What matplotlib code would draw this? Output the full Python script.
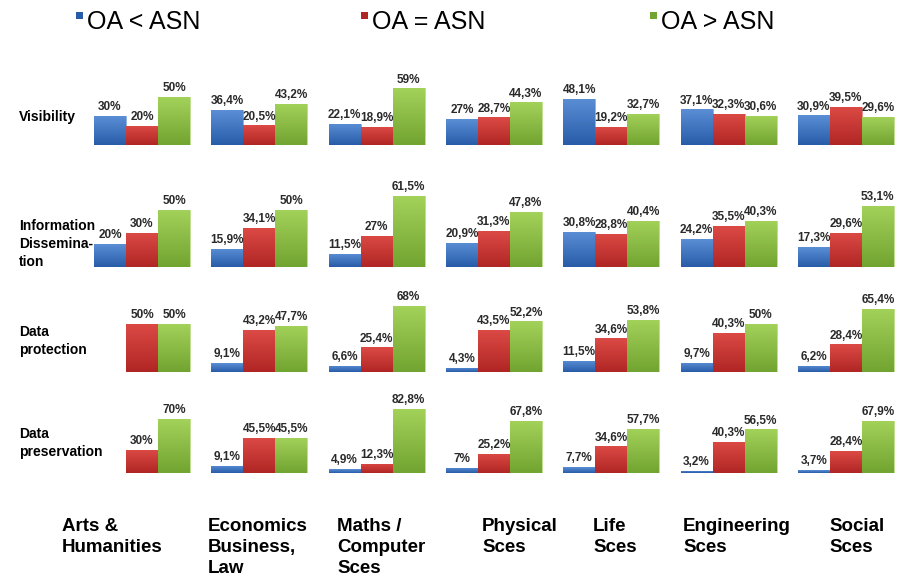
import numpy as np
import matplotlib
matplotlib.use("Agg")
import matplotlib.pyplot as plt
from matplotlib.patches import Rectangle
from matplotlib.colors import LinearSegmentedColormap

plt.rcParams['font.family'] = ['Liberation Sans', 'DejaVu Sans']

# ==== data ====
disciplines = ["Arts &\nHumanities", "Economics\nBusiness,\nLaw", "Maths /\nComputer\nSces",
               "Physical\nSces", "Life\nSces", "Engineering\nSces", "Social\nSces"]
criteria = ["Visibility", "Information\nDissemina-\ntion", "Data\nprotection", "Data\npreservation"]
series = ["OA < ASN", "OA = ASN", "OA > ASN"]

# rows = criteria, columns = disciplines
oa_less = [
    [30, 36.4, 22.1, 27, 48.1, 37.1, 30.9],
    [20, 15.9, 11.5, 20.9, 30.8, 24.2, 17.3],
    [0, 9.1, 6.6, 4.3, 11.5, 9.7, 6.2],
    [0, 9.1, 4.9, 7, 7.7, 3.2, 3.7],
]
oa_equal = [
    [20, 20.5, 18.9, 28.7, 19.2, 32.3, 39.5],
    [30, 34.1, 27, 31.3, 28.8, 35.5, 29.6],
    [50, 43.2, 25.4, 43.5, 34.6, 40.3, 28.4],
    [30, 45.5, 12.3, 25.2, 34.6, 40.3, 28.4],
]
oa_more = [
    [50, 43.2, 59, 44.3, 32.7, 30.6, 29.6],
    [50, 50, 61.5, 47.8, 40.4, 40.3, 53.1],
    [50, 47.7, 68, 52.2, 53.8, 50, 65.4],
    [70, 45.5, 82.8, 67.8, 57.7, 56.5, 67.9],
]

# ==== layout (pixels) ====
W, H = 914, 581
baselines = [145, 267, 372, 473]       # bar baseline of each row
px_per_pct = [0.96, 1.15, 0.97, 0.77]  # each row is scaled on its own
group_left, group_step, bar_px = 94, 117.3, 32
label_x = [62, 208, 337, 482, 593, 683, 829]

colors = [("#5a8fd6", "#285ca8"), ("#dc4a45", "#b02624"), ("#a3d25a", "#72a431")]
edges = ["#8fb3e3", "#e58d8a", "#c2e090"]


def fmt(v):
    if float(v).is_integer():
        return f"{int(v)}%"
    return f"{v}%".replace(".", ",")


fig = plt.figure(figsize=(W / 100, H / 100), dpi=100)

bw = bar_px / group_step
for r in range(len(criteria)):
    ax_h = 120
    ax = fig.add_axes([0, 1 - baselines[r] / H, 1, ax_h / H])
    idx = np.arange(len(disciplines))
    for k, vals in enumerate([oa_less[r], oa_equal[r], oa_more[r]]):
        xs = idx + (k + 0.5) * bw
        bars = ax.bar(xs, vals, width=bw, color=colors[k][1], edgecolor=edges[k], linewidth=0.6)
        # excel-like vertical gradient on each bar
        cmap = LinearSegmentedColormap.from_list("g", [colors[k][1], colors[k][0]])
        grad = np.linspace(0, 1, 64).reshape(-1, 1)
        for b, x, v in zip(bars, xs, vals):
            if v <= 0:
                continue
            im = ax.imshow(grad, cmap=cmap, origin="lower", aspect="auto",
                           extent=[x - bw / 2, x + bw / 2, 0, v], zorder=2)
            im.set_clip_path(b)
            ax.annotate(fmt(v), (x, v), xytext=(0, 2), textcoords="offset points",
                        ha="center", va="bottom", fontsize=8.5, fontweight="bold",
                        color="#2a2a2a", zorder=5)
    ax.set_xlim(-group_left / group_step, (W - group_left) / group_step)
    ax.set_ylim(0, ax_h / px_per_pct[r])
    ax.axis("off")

# row labels
row_label_y = [117, 244, 341, 443]
for lab, y in zip(criteria, row_label_y):
    fig.text(19 / W, 1 - y / H, lab, ha="left", va="center", fontsize=10,
             fontweight="bold", linespacing=1.4)

# column labels
for lab, x in zip(disciplines, label_x):
    fig.text(x / W, 1 - 518 / H, lab, ha="left", va="top", fontsize=13.5,
             fontweight="bold", linespacing=1.3)

# legend
leg_sq = [76, 361, 650]
for name, x, c in zip(series, leg_sq, colors):
    fig.add_artist(Rectangle((x / W, 1 - 19 / H), 7 / W, 7 / H, transform=fig.transFigure,
                             facecolor=c[1], edgecolor="none"))
    fig.text((x + 11) / W, 1 - 22 / H, name, ha="left", va="center", fontsize=18)

fig.savefig("out.png", dpi=100, facecolor="white")
